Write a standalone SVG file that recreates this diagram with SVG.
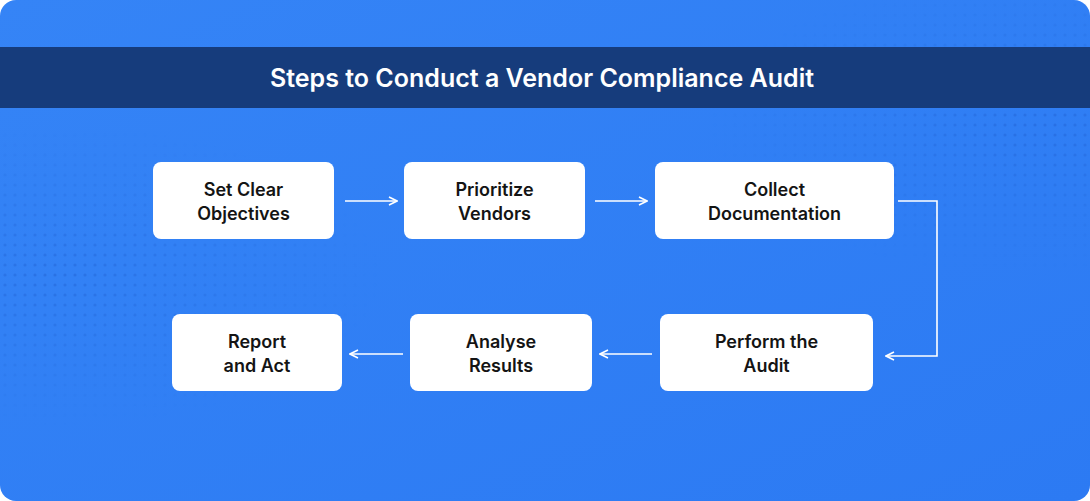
<svg xmlns="http://www.w3.org/2000/svg" width="1090" height="501" viewBox="0 0 1090 501">
<defs>
<style>
.box{fill:#fff}
.t{font-family:Inter,"Liberation Sans",sans-serif;font-weight:600;font-size:18px;fill:#141414;text-anchor:middle}
.c{fill:none;stroke:#fff;stroke-width:1.6}
</style>
<marker id="a" viewBox="0 0 10 10" refX="9" refY="5" markerWidth="10" markerHeight="10" markerUnits="userSpaceOnUse" orient="auto"><path d="M1 1L9 5L1 9" fill="none" stroke="#fff" stroke-width="1.6"/></marker>
<linearGradient id="bg" x1="0" y1="0" x2="1" y2="1"><stop offset="0" stop-color="#3584f6"/><stop offset="1" stop-color="#2c7af3"/></linearGradient>
<pattern id="dots" width="10" height="10" patternUnits="userSpaceOnUse"><circle cx="5" cy="5" r="1.6" fill="#1f5fd0" opacity="0.45"/></pattern>
<radialGradient id="fade1" cx="0.05" cy="0.55" r="0.3"><stop offset="0" stop-color="#fff" stop-opacity="1"/><stop offset="1" stop-color="#fff" stop-opacity="0"/></radialGradient>
<radialGradient id="fade2" cx="0.95" cy="0.25" r="0.3"><stop offset="0" stop-color="#fff" stop-opacity="1"/><stop offset="1" stop-color="#fff" stop-opacity="0"/></radialGradient>
<mask id="m"><rect width="1090" height="501" fill="url(#fade1)"/><rect width="1090" height="501" fill="url(#fade2)"/></mask>
</defs>
<rect width="1090" height="501" rx="16" fill="url(#bg)"/>
<rect width="1090" height="501" fill="url(#dots)" mask="url(#m)"/>
<rect x="0" y="47" width="1090" height="61" fill="#163c7c"/>
<text x="542" y="87" font-family="Inter,'Liberation Sans',sans-serif" font-weight="600" font-size="25" fill="#fff" text-anchor="middle">Steps to Conduct a Vendor Compliance Audit</text>
<g id="n1"><rect class="box" x="153" y="162" width="181" height="77" rx="8"/><text class="t" x="243.5" y="196">Set Clear</text><text class="t" x="243.5" y="220">Objectives</text></g>
<g id="n2"><rect class="box" x="404" y="162" width="181" height="77" rx="8"/><text class="t" x="494.5" y="196">Prioritize</text><text class="t" x="494.5" y="220">Vendors</text></g>
<g id="n3"><rect class="box" x="655" y="162" width="239" height="77" rx="8"/><text class="t" x="774.5" y="196">Collect</text><text class="t" x="774.5" y="220">Documentation</text></g>
<g id="n4"><rect class="box" x="660" y="314" width="213" height="77" rx="8"/><text class="t" x="766.5" y="348">Perform the</text><text class="t" x="766.5" y="372">Audit</text></g>
<g id="n5"><rect class="box" x="410" y="314" width="182" height="77" rx="8"/><text class="t" x="501" y="348">Analyse</text><text class="t" x="501" y="372">Results</text></g>
<g id="n6"><rect class="box" x="172" y="314" width="170" height="77" rx="8"/><text class="t" x="257" y="348">Report</text><text class="t" x="257" y="372">and Act</text></g>
<g id="connectors">
<path class="c" d="M345 201H397" marker-end="url(#a)"/>
<path class="c" d="M595 201H647" marker-end="url(#a)"/>
<path class="c" d="M898 201H937V356H886" marker-end="url(#a)"/>
<path class="c" d="M652 354H600" marker-end="url(#a)"/>
<path class="c" d="M403 354H350" marker-end="url(#a)"/>
</g>
</svg>
